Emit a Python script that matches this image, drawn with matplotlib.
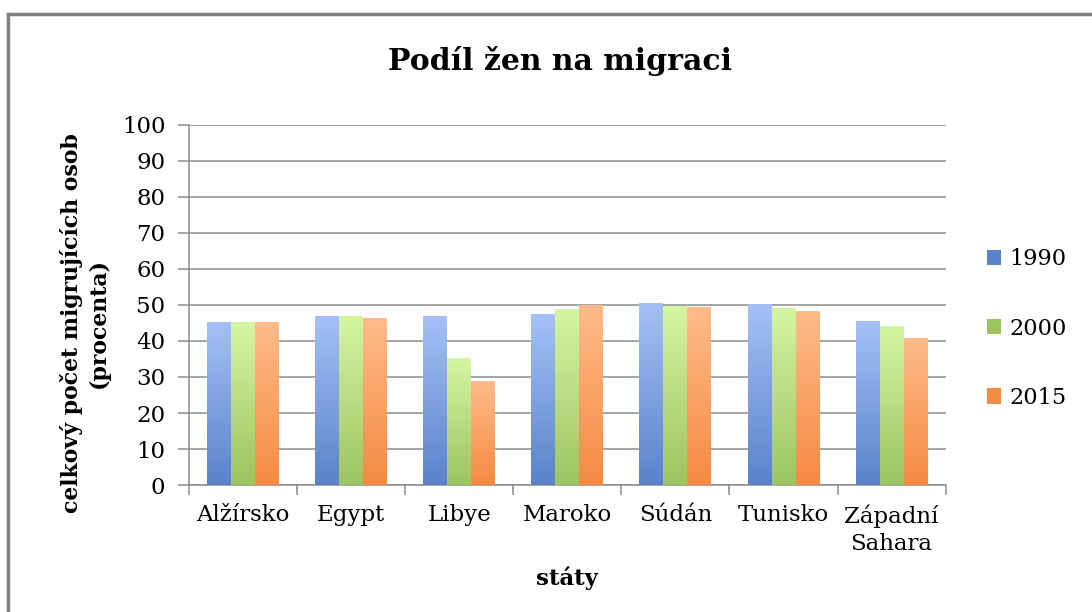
import matplotlib.pyplot as plt
import numpy as np
from matplotlib.colors import LinearSegmentedColormap
from matplotlib.lines import Line2D
from matplotlib.patches import Patch

plt.rcParams['font.family'] = ['DejaVu Serif']

states = ['Alžírsko', 'Egypt', 'Libye', 'Maroko', 'Súdán', 'Tunisko', 'Západní\nSahara']
years = ['1990', '2000', '2015']
v1990 = [45.2, 47.0, 47.0, 47.4, 50.6, 50.2, 45.6]
v2000 = [45.2, 47.0, 35.2, 48.8, 49.8, 49.2, 44.2]
v2015 = [45.2, 46.3, 28.9, 49.9, 49.4, 48.4, 40.9]

# top (light) and bottom (dark) colour of each series
shades = [('#a5c1f7', '#5a82ca'), ('#d5f5a3', '#9cc560'), ('#ffbb8a', '#f58a42')]

fig = plt.figure(figsize=(10.92, 6.12), dpi=100)
ax = fig.add_axes([0.173, 0.2075, 0.693, 0.5883])

x = np.arange(len(states))
w = 0.222
grad = np.linspace(1, 0, 256).reshape(-1, 1)
for i, (vals, (top, bot)) in enumerate(zip([v1990, v2000, v2015], shades)):
    cmap = LinearSegmentedColormap.from_list('g%d' % i, [bot, top])
    bars = ax.bar(x + (i - 1) * w, vals, w, color='none', edgecolor='none', zorder=3)
    for b in bars:
        im = ax.imshow(grad, cmap=cmap, aspect='auto', zorder=3,
                       extent=[b.get_x(), b.get_x() + b.get_width(), 0, b.get_height()])
        im.set_clip_path(b)

ax.set_xlim(-0.5, len(states) - 0.5)
ax.set_ylim(0, 100)
ax.set_yticks(range(0, 101, 10))
ax.yaxis.grid(True, color='#8c8c8c', linewidth=1.1, zorder=0)
ax.set_axisbelow(True)
for s in ['top', 'right']:
    ax.spines[s].set_visible(False)
for s in ['left', 'bottom']:
    ax.spines[s].set_color('#8c8c8c')
    ax.spines[s].set_linewidth(1.1)

ax.set_xticks(x)
ax.set_xticklabels(states, fontsize=16.5, linespacing=1.3)
ax.tick_params(axis='x', length=0, pad=14)
ax.set_xticks(np.arange(-0.5, len(states)), minor=True)
ax.tick_params(axis='x', which='minor', length=7, color='#8c8c8c', width=1.1)
ax.tick_params(axis='y', labelsize=16.5, length=8, color='#8c8c8c', width=1.1, pad=9)

ax.set_ylabel('celkový počet migrujících osob\n(procenta)', fontsize=15.8,
              fontweight='bold', linespacing=1.3)
ax.yaxis.set_label_coords(-0.104, 0.45)
ax.set_xlabel('státy', fontsize=16.5, fontweight='bold', labelpad=8)

fig.text(0.513, 0.9, 'Podíl žen na migraci', ha='center', va='center',
         fontsize=21.5, fontweight='bold')

handles = [Patch(facecolor=c[1], edgecolor='none') for c in shades]
fig.legend(handles, years, loc='center left', bbox_to_anchor=(0.885, 0.463),
           frameon=False, fontsize=16.2, handlelength=0.65, handleheight=0.65,
           handletextpad=0.35, labelspacing=2.1)

# outer chart border (only left and top are inside the picture)
fig.add_artist(Line2D([8 / 1092, 8 / 1092], [1 - 14 / 612, 0], color='#808080', lw=2.5))
fig.add_artist(Line2D([8 / 1092, 1], [1 - 14 / 612, 1 - 14 / 612], color='#808080', lw=2.5))

fig.savefig('out.png', dpi=100)
